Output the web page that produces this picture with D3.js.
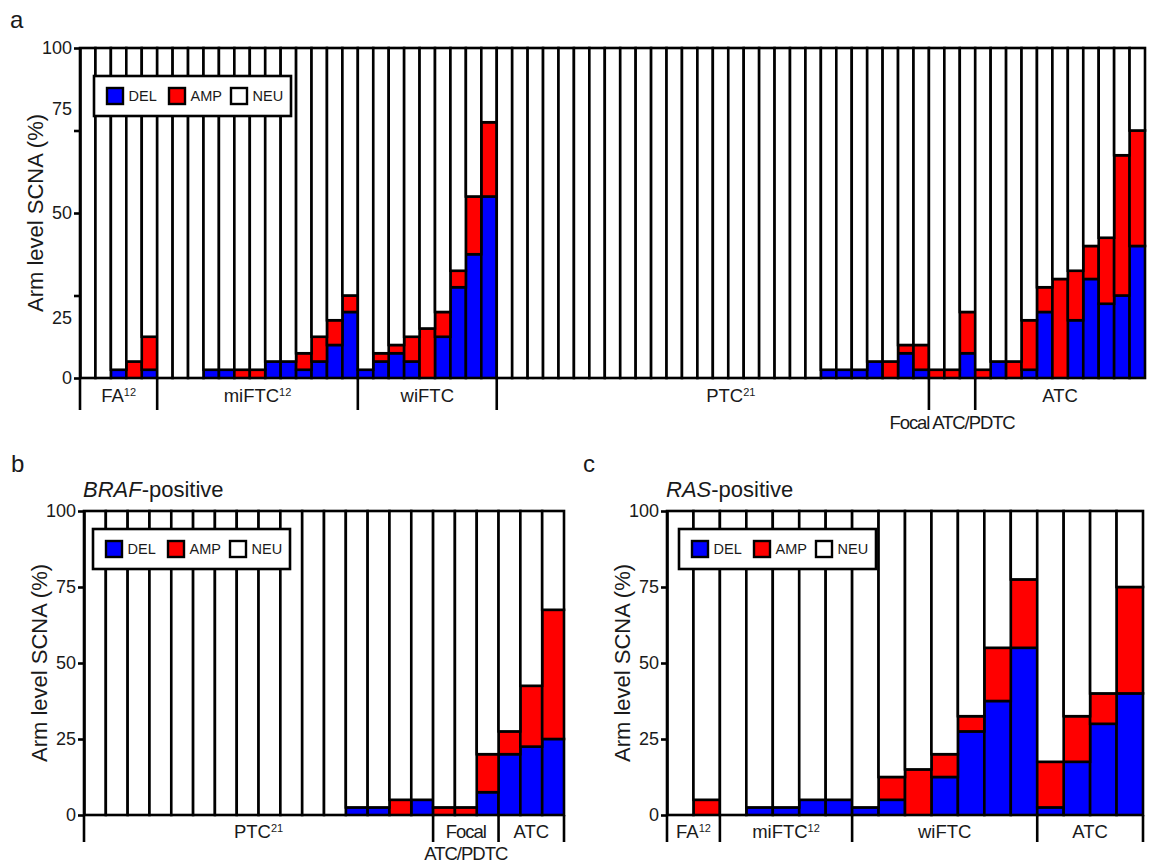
<!DOCTYPE html>
<html>
<head>
<meta charset="utf-8">
<script src="https://cdn.jsdelivr.net/npm/d3@7"></script>
<style>
  html, body { margin: 0; padding: 0; background: #fff; }
  svg { display: block; }
</style>
</head>
<body>
<div id="chart"></div>
<script>
// ---------------- data ----------------
const yTicks = [0, 25, 50, 75, 100];
const legendKeys = ["DEL", "AMP", "NEU"];
const legendColors = ["#0000ff", "#ff0000", "#ffffff"];

// Panel a : all samples
const aGroups   = ["FA", "miFTC", "wiFTC", "PTC", "Focal ATC/PDTC", "ATC"];
const aGroupSup = ["12", "12", "", "21", "", ""];
const aGroupSize = [5, 13, 9, 28, 3, 11];
const aDel = [
  0, 0, 2.5, 0, 2.5,
  0, 0, 0, 2.5, 2.5, 0, 0, 5, 5, 2.5, 5, 10, 20,
  2.5, 5, 7.5, 5, 0, 12.5, 27.5, 37.5, 55,
  0, 0, 0, 0, 0, 0, 0, 0, 0, 0, 0, 0, 0, 0, 0, 0, 0, 0, 0, 0, 0, 2.5, 2.5, 2.5, 5, 0, 7.5, 2.5,
  0, 0, 7.5,
  0, 5, 0, 2.5, 20, 0, 17.5, 30, 22.5, 25, 40
];
const aAmp = [
  0, 0, 0, 5, 10,
  0, 0, 0, 0, 0, 2.5, 2.5, 0, 0, 5, 7.5, 7.5, 5,
  0, 2.5, 2.5, 7.5, 15, 7.5, 5, 17.5, 22.5,
  0, 0, 0, 0, 0, 0, 0, 0, 0, 0, 0, 0, 0, 0, 0, 0, 0, 0, 0, 0, 0, 0, 0, 0, 0, 5, 2.5, 7.5,
  2.5, 2.5, 12.5,
  2.5, 0, 5, 15, 7.5, 30, 15, 10, 20, 42.5, 35
];

// Panel b : BRAF-positive
const bTitle = ["BRAF", "-positive"];
const bGroups   = ["PTC", "Focal ATC/PDTC", "ATC"];
const bGroupSup = ["21", "", ""];
const bGroupSize = [16, 3, 3];
const bDel = [0, 0, 0, 0, 0, 0, 0, 0, 0, 0, 0, 0, 2.5, 2.5, 0, 5, 0, 0, 7.5, 20, 22.5, 25];
const bAmp = [0, 0, 0, 0, 0, 0, 0, 0, 0, 0, 0, 0, 0, 0, 5, 0, 2.5, 2.5, 12.5, 7.5, 20, 42.5];

// Panel c : RAS-positive
const cTitle = ["RAS", "-positive"];
const cGroups   = ["FA", "miFTC", "wiFTC", "ATC"];
const cGroupSup = ["12", "12", "", ""];
const cGroupSize = [2, 5, 7, 4];
const cDel = [0, 0, 0, 2.5, 2.5, 5, 5, 2.5, 5, 0, 12.5, 27.5, 37.5, 55, 2.5, 17.5, 30, 40];
const cAmp = [0, 5, 0, 0, 0, 0, 0, 0, 7.5, 15, 7.5, 5, 17.5, 22.5, 15, 15, 10, 35];

const yTitle = "Arm level SCNA (%)";

// ---------------- drawing ----------------
const W = 1152, H = 866;
const FONT = "'Liberation Sans', Arial, Helvetica, sans-serif";
const TXT = "#1a1a1a";
const SW = 2.6;

const svg = d3.select("#chart").append("svg")
  .attr("width", W).attr("height", H)
  .attr("font-family", FONT);
svg.append("rect").attr("width", W).attr("height", H).attr("fill", "#fff");

function legend(g, bx, by) {
  g.append("rect").attr("x", bx).attr("y", by).attr("width", 197).attr("height", 40)
    .attr("fill", "#fff").attr("stroke", "#000").attr("stroke-width", SW);
  legendKeys.forEach((k, i) => {
    const sx = bx + 13 + i * 62;
    g.append("rect").attr("x", sx).attr("y", by + 12).attr("width", 16).attr("height", 16)
      .attr("fill", legendColors[i]).attr("stroke", "#000").attr("stroke-width", 2.4);
    g.append("text").attr("x", sx + 21.5).attr("y", by + 20).attr("dy", "0.36em")
      .attr("font-size", 14.5).attr("fill", TXT).text(k);
  });
}

function panel(o) {
  const g = svg.append("g");
  const n = o.del.length;
  const x = d3.scaleBand().domain(d3.range(n)).range([o.x0, o.x1]).padding(0);
  const y = d3.scaleLinear().domain([0, 100]).range([o.y0, o.y100]);
  const bw = x.bandwidth();

  const rows = o.del.map((d, i) => ({ i, del: d, amp: o.amp[i], neu: 100 - d - o.amp[i] }));
  const series = d3.stack().keys(["del", "amp", "neu"])(rows);

  g.selectAll("g.layer").data(series).join("g").attr("class", "layer")
    .attr("fill", (d, k) => legendColors[k])
    .selectAll("rect").data(d => d.filter(s => s[1] - s[0] > 0)).join("rect")
    .attr("x", d => x(d.data.i)).attr("width", bw)
    .attr("y", d => y(d[1])).attr("height", d => y(d[0]) - y(d[1]))
    .attr("stroke", "#000").attr("stroke-width", SW);

  // y axis
  const ax = g.append("g").attr("transform", `translate(${o.x0},0)`)
    .call(d3.axisLeft(y).tickValues(yTicks).tickSize(6).tickSizeOuter(0).tickPadding(2));
  ax.select(".domain").attr("stroke", "#000").attr("stroke-width", SW);
  ax.selectAll(".tick line").attr("stroke", "#000").attr("stroke-width", SW);
  ax.selectAll(".tick text").attr("font-size", 18).attr("font-family", FONT).attr("fill", TXT);
  if (o.labelShift) {
    ax.selectAll(".tick").filter(d => o.labelShift[d] !== undefined)
      .select("text").attr("y", d => o.labelShift[d]);
  }

  // y title
  g.append("text")
    .attr("transform", `translate(${o.x0 - 37},${(o.y0 + o.y100) / 2}) rotate(-90)`)
    .attr("text-anchor", "middle").attr("font-size", 22).attr("fill", TXT).text(yTitle);

  // group brackets
  let start = 0;
  const bounds = [0];
  o.sizes.forEach(s => { start += s; bounds.push(start); });
  const bLines = o.closeRight ? bounds : bounds.slice(0, -1);
  g.selectAll("line.sep").data(bLines).join("line").attr("class", "sep")
    .attr("x1", d => o.x0 + d * bw).attr("x2", d => o.x0 + d * bw)
    .attr("y1", o.y0).attr("y2", o.y0 + o.sepLen)
    .attr("stroke", "#000").attr("stroke-width", SW);

  o.groups.forEach((name, k) => {
    const mid = o.x0 + (bounds[k] + bounds[k + 1]) / 2 * bw + ((o.labelDx && o.labelDx[name]) || 0);
    const isFocal = name.indexOf("Focal") === 0;
    if (isFocal) {
      if (o.focalTwoLines) {
        name.split(" ").forEach((ln, j) => {
          g.append("text").attr("x", mid).attr("y", o.labelY + j * 22)
            .attr("text-anchor", "middle").attr("font-size", 18.5).attr("letter-spacing", -1)
            .attr("fill", TXT).text(ln);
        });
      } else {
        g.append("text").attr("x", mid).attr("y", o.focalY)
          .attr("text-anchor", "middle").attr("font-size", 18.5).attr("letter-spacing", -1.1)
          .attr("fill", TXT).text(name);
      }
      return;
    }
    const t = g.append("text").attr("x", mid).attr("y", o.labelY)
      .attr("text-anchor", "middle").attr("font-size", 18.5).attr("fill", TXT);
    t.append("tspan").text(name);
    if (o.sups[k]) t.append("tspan").attr("font-size", 11).attr("dy", -6.5).text(o.sups[k]);
  });

  // panel title
  if (o.title) {
    const tt = g.append("text").attr("x", o.x0 - 1).attr("y", o.titleY)
      .attr("font-size", 22).attr("fill", TXT);
    tt.append("tspan").attr("font-style", "italic").text(o.title[0]);
    tt.append("tspan").text(o.title[1]);
  }

  legend(g, o.legX, o.legY);
}

panel({
  del: aDel, amp: aAmp, groups: aGroups, sups: aGroupSup, sizes: aGroupSize,
  x0: 80, x1: 1145, y0: 378, y100: 48, sepLen: 32, labelY: 402, focalY: 429,
  closeRight: false, labelDx: { "PTC": 18 }, labelShift: { 75: -22, 25: 22 },
  legX: 94, legY: 76
});
panel({
  del: bDel, amp: bAmp, groups: bGroups, sups: bGroupSup, sizes: bGroupSize,
  x0: 84, x1: 564, y0: 815, y100: 511, sepLen: 27, labelY: 838,
  closeRight: true, focalTwoLines: true, title: bTitle, titleY: 497,
  legX: 93, legY: 529
});
panel({
  del: cDel, amp: cAmp, groups: cGroups, sups: cGroupSup, sizes: cGroupSize,
  x0: 667, x1: 1143, y0: 815, y100: 511, sepLen: 27, labelY: 838,
  closeRight: true, title: cTitle, titleY: 497,
  legX: 679, legY: 529
});

// panel letters
[["a", 10, 28], ["b", 11, 472], ["c", 583, 472]].forEach(([t, x, y]) => {
  svg.append("text").attr("x", x).attr("y", y).attr("font-size", 24).attr("fill", TXT).text(t);
});
</script>
</body>
</html>
